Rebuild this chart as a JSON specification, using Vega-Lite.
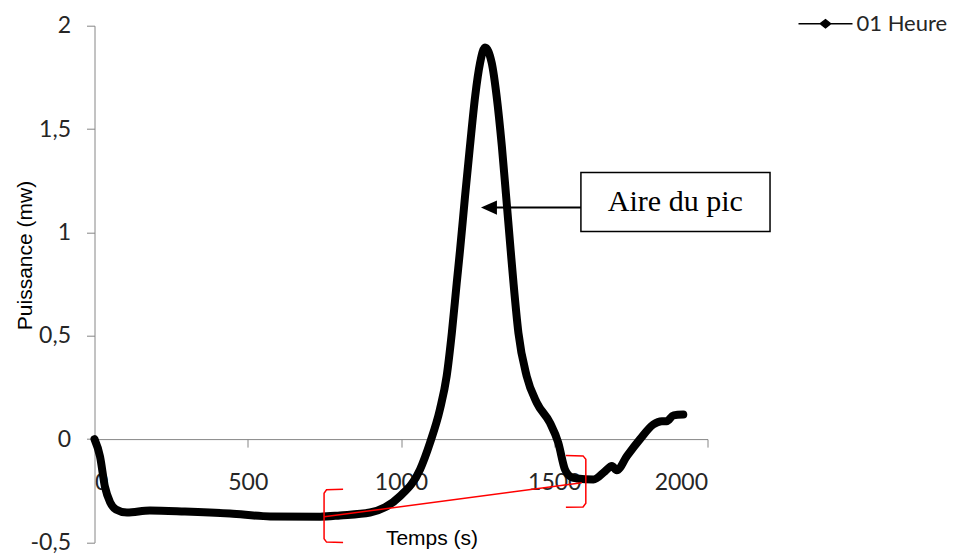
{
  "$schema": "https://vega.github.io/schema/vega-lite/v6.json",
  "autosize": "none",
  "width": 613,
  "height": 516.8,
  "padding": {"left": 94.5, "top": 25.7, "right": 249.5, "bottom": 11.5},
  "background": "white",
  "config": {
    "view": {"stroke": null},
    "axis": {
      "domainColor": "#868686", "tickColor": "#868686", "domainWidth": 1, "tickWidth": 1,
      "tickSize": 8, "grid": false,
      "labelFont": "Lato", "labelFontSize": 23, "labelColor": "#262626",
      "titleFont": "Liberation Sans", "titleFontSize": 21, "titleFontWeight": "normal", "titleColor": "#000000"
    }
  },
  "datasets": {
    "curve": [
      {"t": 0, "p": 0}, {"t": 18, "p": -0.084}, {"t": 34, "p": -0.23}, {"t": 51, "p": -0.306},
      {"t": 70, "p": -0.34}, {"t": 106, "p": -0.355}, {"t": 181, "p": -0.345}, {"t": 295, "p": -0.35},
      {"t": 442, "p": -0.36}, {"t": 573, "p": -0.374}, {"t": 736, "p": -0.375}, {"t": 801, "p": -0.369},
      {"t": 899, "p": -0.355}, {"t": 948, "p": -0.33}, {"t": 997, "p": -0.276}, {"t": 1062, "p": -0.147},
      {"t": 1095, "p": -0.016}, {"t": 1127, "p": 0.144}, {"t": 1149, "p": 0.305}, {"t": 1166, "p": 0.516},
      {"t": 1182, "p": 0.758}, {"t": 1193, "p": 0.92}, {"t": 1209, "p": 1.175}, {"t": 1225, "p": 1.417},
      {"t": 1242, "p": 1.659}, {"t": 1258, "p": 1.82}, {"t": 1274, "p": 1.895}, {"t": 1296, "p": 1.82},
      {"t": 1312, "p": 1.659}, {"t": 1329, "p": 1.417}, {"t": 1343, "p": 1.175}, {"t": 1358, "p": 0.91},
      {"t": 1367, "p": 0.756}, {"t": 1383, "p": 0.515}, {"t": 1410, "p": 0.305}, {"t": 1443, "p": 0.176},
      {"t": 1486, "p": 0.079}, {"t": 1513, "p": -0.017}, {"t": 1535, "p": -0.147}, {"t": 1557, "p": -0.185},
      {"t": 1573, "p": -0.19}, {"t": 1628, "p": -0.195}, {"t": 1666, "p": -0.155}, {"t": 1688, "p": -0.13},
      {"t": 1704, "p": -0.151}, {"t": 1737, "p": -0.082}, {"t": 1780, "p": 0}, {"t": 1823, "p": 0.071},
      {"t": 1851, "p": 0.087}, {"t": 1867, "p": 0.087}, {"t": 1889, "p": 0.115}, {"t": 1921, "p": 0.119}
    ],
    "brackets": [
      {"g": "left", "o": 1, "t": 811, "p": -0.243},
      {"g": "left", "o": 2, "t": 757, "p": -0.245},
      {"g": "left", "o": 3, "t": 749, "p": -0.262},
      {"g": "left", "o": 4, "t": 749, "p": -0.482},
      {"g": "left", "o": 5, "t": 757, "p": -0.498},
      {"g": "left", "o": 6, "t": 811, "p": -0.5},
      {"g": "right", "o": 1, "t": 1538, "p": -0.079},
      {"g": "right", "o": 2, "t": 1594, "p": -0.081},
      {"g": "right", "o": 3, "t": 1603, "p": -0.097},
      {"g": "right", "o": 4, "t": 1603, "p": -0.31},
      {"g": "right", "o": 5, "t": 1594, "p": -0.328},
      {"g": "right", "o": 6, "t": 1538, "p": -0.33}
    ],
    "baseline": [{"t": 749, "p": -0.376, "t2": 1590, "p2": -0.211}],
    "note": [{"label": "Aire du pic", "x1": 1587, "x2": 2204, "y1": 1.004, "y2": 1.29, "xc": 1895, "yc": 1.147, "tip": 1287, "ya": 1.12}]
  },
  "layer": [
    {
      "data": {"name": "curve"},
      "transform": [{"calculate": "'01 Heure'", "as": "serie"}],
      "mark": {"type": "line", "strokeWidth": 8, "strokeCap": "round", "strokeJoin": "round", "interpolate": "monotone"},
      "encoding": {
        "x": {
          "field": "t", "type": "quantitative",
          "scale": {"domain": [0, 2000], "nice": false, "zero": false},
          "axis": {
            "title": "Temps (s)", "values": [0, 500, 1000, 1500, 2000], "format": "d",
            "offset": -103.4, "labelPadding": 24,
            "titleX": 337, "titleY": 99, "titleBaseline": "middle"
          }
        },
        "y": {
          "field": "p", "type": "quantitative",
          "scale": {"domain": [-0.5, 2], "nice": false, "zero": false},
          "axis": {
            "title": "Puissance (mw)", "values": [-0.5, 0, 0.5, 1, 1.5, 2],
            "labelExpr": "(datum.value < 0 ? '-' : '') + replace(format(abs(datum.value), '~g'), '.', ',')",
            "labelPadding": 16,
            "titleX": -69.5, "titleY": 229.3, "titleAngle": -90, "titleBaseline": "middle"
          }
        },
        "color": {
          "field": "serie", "type": "nominal",
          "scale": {"domain": ["01 Heure"], "range": ["#000000"]},
          "legend": {
            "orient": "none", "legendX": 703, "legendY": -30, "title": null, "padding": 0,
            "symbolType": "M-1,0L1,0M-0.19,0L0,-0.15L0.19,0L0,0.15Z", "symbolSize": 2916,
            "labelFont": "Lato", "labelFontSize": 22, "labelColor": "#262626", "labelOffset": 3,
            "symbolStrokeWidth": 1.5,
            "encode": {"symbols": {"update": {"fill": {"value": "#000000"}, "stroke": {"value": "#000000"}, "strokeWidth": {"value": 1.5}, "opacity": {"value": 1}}}}
          }
        }
      }
    },
    {
      "data": {"name": "brackets"},
      "mark": {"type": "line", "color": "#ff0000", "strokeWidth": 1.5},
      "encoding": {
        "x": {"field": "t", "type": "quantitative"},
        "y": {"field": "p", "type": "quantitative"},
        "detail": {"field": "g"},
        "order": {"field": "o"}
      }
    },
    {
      "data": {"name": "baseline"},
      "mark": {"type": "rule", "color": "#ff0000", "strokeWidth": 1.5},
      "encoding": {
        "x": {"field": "t", "type": "quantitative"},
        "y": {"field": "p", "type": "quantitative"},
        "x2": {"field": "t2"},
        "y2": {"field": "p2"}
      }
    },
    {
      "data": {"name": "note"},
      "mark": {"type": "rect", "fill": "#ffffff", "stroke": "#000000", "strokeWidth": 1.5},
      "encoding": {
        "x": {"field": "x1", "type": "quantitative"},
        "x2": {"field": "x2"},
        "y": {"field": "y1", "type": "quantitative"},
        "y2": {"field": "y2"}
      }
    },
    {
      "data": {"name": "note"},
      "mark": {"type": "rule", "color": "#000000", "strokeWidth": 2},
      "encoding": {
        "x": {"field": "x1", "type": "quantitative"},
        "x2": {"field": "tip"},
        "y": {"field": "ya", "type": "quantitative"}
      }
    },
    {
      "data": {"name": "note"},
      "mark": {"type": "point", "shape": "M-1,0L1,-0.9L1,0.9Z", "size": 256, "filled": true, "color": "#000000", "opacity": 1},
      "encoding": {
        "x": {"field": "tip", "type": "quantitative"},
        "y": {"field": "ya", "type": "quantitative"}
      }
    },
    {
      "data": {"name": "note"},
      "mark": {"type": "text", "font": "Liberation Serif", "fontSize": 30, "color": "#000000", "align": "center", "baseline": "middle"},
      "encoding": {
        "x": {"field": "xc", "type": "quantitative"},
        "y": {"field": "yc", "type": "quantitative"},
        "text": {"field": "label"}
      }
    }
  ]
}
